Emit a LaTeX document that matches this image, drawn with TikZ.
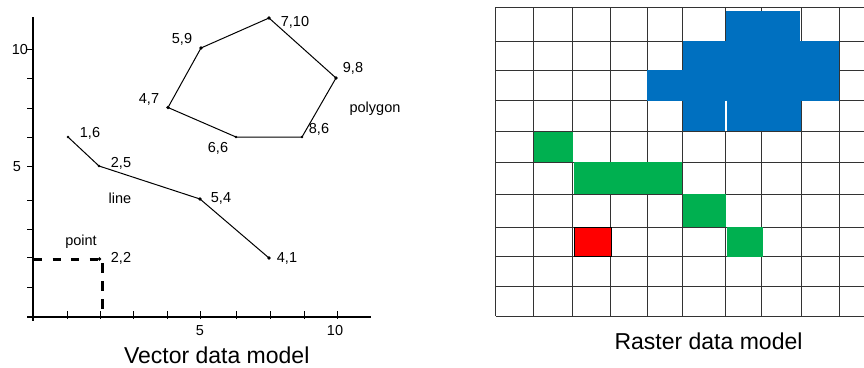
\documentclass[tikz,border=0pt]{standalone}
\usepackage{fontspec}
\setmainfont{Liberation Sans}
\definecolor{blueC}{HTML}{0070C0}
\definecolor{greenC}{HTML}{00B050}
\definecolor{redC}{HTML}{FF0000}
\begin{document}
\begin{tikzpicture}[x=1pt,y=-1pt,
  lab/.style={font=\fontsize{14.5}{16}\selectfont, inner sep=0pt},
  title/.style={font=\fontsize{23}{26}\selectfont, inner sep=0pt},
  vtx/.style={circle, fill=black, inner sep=0pt, minimum size=3.6pt},
  vtxs/.style={circle, fill=black, inner sep=0pt, minimum size=2.6pt},
  axisline/.style={line width=1.3pt},
  tickline/.style={line width=1pt},
  shapeline/.style={line width=1pt},
  dashline/.style={line width=3pt, dash pattern=on 8pt off 10.5pt},
  gridline/.style={line width=1pt, black!80}]
\useasboundingbox (0,0) rectangle (864,367);
\fill[white] (0,0) rectangle (864,367);

% ---------------- Vector panel ----------------
\coordinate (yaxT) at (33,17);
\coordinate (yaxB) at (33,321);
\coordinate (xaxL) at (27,317);
\coordinate (xaxR) at (371,317);
\draw[axisline] (yaxT) -- (yaxB);
\draw[axisline] (xaxL) -- (xaxR);
\foreach \y in {287,257,229,200,166,137,108,78,49}
  \draw[tickline] (27,\y) -- (33,\y);
\foreach \x in {67,100,133,167,200,236,270,304,337}
  \draw[tickline] (\x,311) -- (\x,319);

\node[lab] (ty10) at (20,49.5) {10};
\node[lab] (ty5) at (17,166.5) {5};
\node[lab] (tx5) at (200,331) {5};
\node[lab] (tx10) at (335,331) {10};

% point
\node[vtx] (p22) at (99.5,259) {};
\coordinate (p22y) at (34,259);
\coordinate (p22t) at (102.7,263);
\coordinate (p22b) at (102.7,316);
\draw[dashline] (p22y) -- (p22.center);
\draw[dashline, dash pattern=on 10pt off 8pt] (p22t) -- (p22b);

% line
\node[vtxs] (p16) at (68,137) {};
\node[vtxs] (p25) at (99,166) {};
\node[vtx] (p54) at (200,199) {};
\node[vtx] (p41) at (269,258) {};
\draw[shapeline] (p16.center) -- (p25.center) -- (p54.center) -- (p41.center);

% polygon
\node[vtx] (p59) at (201,48) {};
\node[vtx] (p710) at (269,18) {};
\node[vtx] (p98) at (336,78) {};
\node[vtxs] (p86) at (302,137) {};
\node[vtxs] (p66) at (236,137) {};
\node[vtx] (p47) at (168,107.5) {};
\draw[shapeline] (p59.center) -- (p710.center) -- (p98.center) -- (p86.center)
  -- (p66.center) -- (p47.center) -- cycle;

% labels
\node[lab] (l16) at (90,133) {1,6};
\node[lab] (l25) at (121,163) {2,5};
\node[lab] (l54) at (221,198) {5,4};
\node[lab] (l41) at (287,258) {4,1};
\node[lab] (l22) at (121,258) {2,2};
\node[lab] (l710) at (295,22) {7,10};
\node[lab] (l59) at (182,39) {5,9};
\node[lab] (l98) at (353,68) {9,8};
\node[lab] (l47) at (149,99) {4,7};
\node[lab] (l66) at (218,148) {6,6};
\node[lab] (l86) at (319,129) {8,6};
\node[lab] (lpoly) at (375,109) {polygon};
\node[lab] (lline) at (120,198) {line};
\node[lab] (lpoint) at (81,242) {point};

\node[title, anchor=base] (vtitle) at (216.7,363.3) {Vector data model};

% ---------------- Raster panel ----------------
\foreach \x in {495.7,533.3,572.7,610.7,647.3,682.3,725,761.7,801,839}
  \draw[gridline] (\x,7.3) -- (\x,316);
\foreach \y in {7.3,41.7,70.7,100,131.7,162.3,194,227.3,256.7,286,316}
  \draw[gridline] (495.7,\y) -- (864,\y);

% blue polygon cells
\fill[blueC] (725.5,11) rectangle (799.5,42.2);
\fill[blueC] (683,41.2) rectangle (839,71.2);
\fill[blueC] (647.3,70.2) rectangle (839,100.5);
\fill[blueC] (683,99.5) rectangle (801,131.2);
\draw[white, line width=1.4pt] (726,100.5) -- (726,131.2);

% green line cells
\fill[greenC] (533.8,131.7) rectangle (572.7,162.3);
\fill[greenC] (573.5,162.3) rectangle (682.3,193.5);
\fill[greenC] (683,194) rectangle (725.7,226.8);
\fill[greenC] (726.8,227.3) rectangle (762.5,257);

% red point cell
\filldraw[fill=redC, draw=black, line width=1pt] (574,227.3) rectangle (611,256.7);

\node[title, anchor=base] (rtitle) at (708.5,349.3) {Raster data model};
\end{tikzpicture}
\end{document}
